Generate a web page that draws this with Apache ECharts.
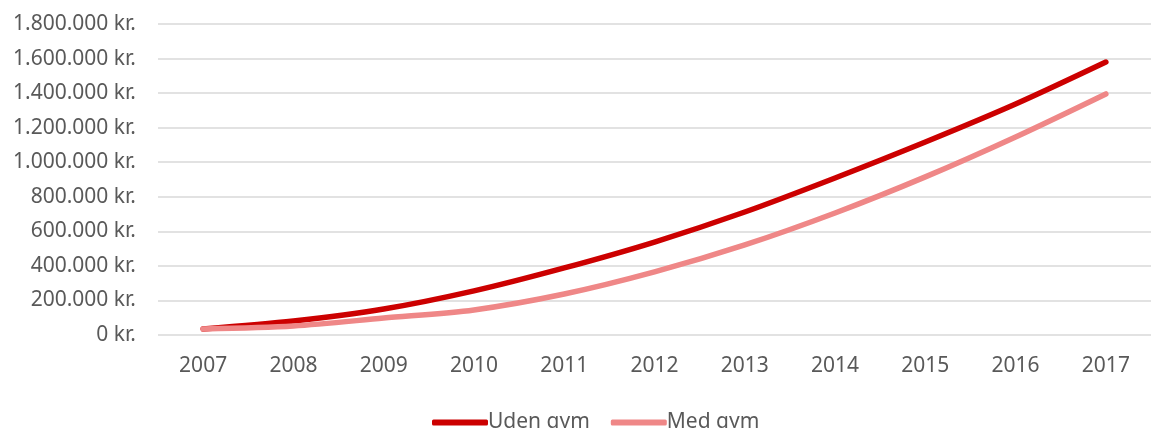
<!DOCTYPE html>
<html>
<head>
<meta charset="utf-8">
<script src="https://cdn.jsdelivr.net/npm/echarts@6/dist/echarts.min.js"></script>
<style>
  html, body { margin: 0; padding: 0; background: #fff; }
  #chart { width: 1151px; height: 428px; }
</style>
</head>
<body>
<div id="chart"></div>
<script>
// år og værdier
const years = ['2007', '2008', '2009', '2010', '2011', '2012', '2013', '2014', '2015', '2016', '2017'];
const udenGym = [35000, 81000, 150000, 255000, 388000, 538000, 712000, 909000, 1117000, 1337000, 1580000];
const medGym = [35000, 52000, 98000, 145000, 237000, 365000, 521000, 706000, 915000, 1146000, 1395000];
const seriesNames = ['Uden gym', 'Med gym'];
const colors = ['#CC0000', '#EF8787'];

const fmtKr = v => v.toString().replace(/\B(?=(\d{3})+(?!\d))/g, '.') + ' kr.';

let myChart = echarts.init(document.getElementById('chart'));
let font = 'Noto Sans';

let option = {
  animation: false,
  textStyle: { fontFamily: font },
  grid: {
    left: 158,
    top: 24,
    width: 1005,
    height: 311
  },
  legend: {
    bottom: -10,
    left: 427,
    icon: 'roundRect',
    itemWidth: 56,
    itemHeight: 6,
    itemGap: 21,
    textStyle: { fontSize: 21, color: '#595959', fontFamily: font, padding: [0, 0, 0, -5] },
    data: seriesNames
  },
  xAxis: {
    type: 'category',
    data: years,
    boundaryGap: true,
    axisLine: { show: false },
    axisTick: { show: false },
    axisLabel: { fontSize: 21, color: '#595959', margin: 21 }
  },
  yAxis: {
    type: 'value',
    min: 0,
    max: 1800000,
    interval: 200000,
    axisLine: { show: false },
    axisTick: { show: false },
    axisLabel: { fontSize: 21, color: '#595959', margin: 22, formatter: fmtKr },
    splitLine: { lineStyle: { color: '#D9D9D9', width: 1.5 } }
  },
  series: [{
    name: seriesNames[0],
    type: 'line',
    data: udenGym,
    smooth: 0.3,
    symbol: 'none',
    color: colors[0],
    itemStyle: { color: colors[0] },
    lineStyle: { width: 5.5, color: colors[0], cap: 'round' },
    z: 3
  }, {
    name: seriesNames[1],
    type: 'line',
    data: medGym,
    smooth: 0.3,
    symbol: 'none',
    color: colors[1],
    itemStyle: { color: colors[1] },
    lineStyle: { width: 5.5, color: colors[1], cap: 'round' },
    z: 4
  }]
};
myChart.setOption(option);
</script>
</body>
</html>
